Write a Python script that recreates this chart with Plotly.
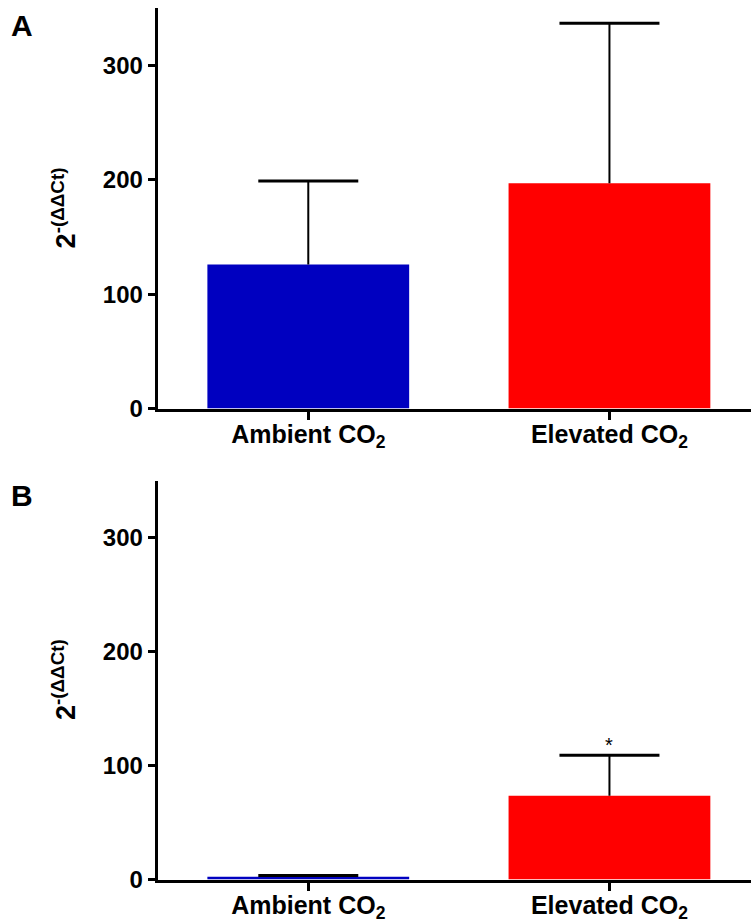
import plotly.graph_objects as go

categories = ["Ambient CO<sub>2</sub>", "Elevated CO<sub>2</sub>"]
bar_colors = ["#0000C0", "#FF0000"]
panel_a_means = [126, 197]
panel_a_errors = [73, 140]
panel_b_means = [2.5, 73.5]
panel_b_errors = [1.0, 35.5]
y_ticks = [0, 100, 200, 300]
panel_labels = ["A", "B"]
y_title = "2<sup>-(ΔΔCt)</sup>"

W, H = 751, 924
x_left = 157.7 / W
A_dom = [(H - 408.5) / H, (H - 8.3) / H]
B_dom = [(H - 879.5) / H, (H - 480.7) / H]

FONT = "Liberation Sans, Arial, sans-serif"
BAR_W = 0.67
CAP_HALF = 0.166

fig = go.Figure()
shapes = []
for means, errs, ya, xa in [(panel_a_means, panel_a_errors, "y", "x"),
                            (panel_b_means, panel_b_errors, "y2", "x2")]:
    fig.add_trace(go.Bar(
        x=categories, y=means, xaxis=xa, yaxis=ya,
        marker=dict(color=bar_colors, line=dict(width=0)),
        width=BAR_W, showlegend=False,
    ))
    for i, (m, e) in enumerate(zip(means, errs)):
        shapes.append(dict(type="line", xref=xa, yref=ya, x0=i, x1=i, y0=m, y1=m + e,
                           line=dict(color="black", width=2), layer="above"))
        shapes.append(dict(type="line", xref=xa, yref=ya, x0=i - CAP_HALF, x1=i + CAP_HALF,
                           y0=m + e, y1=m + e,
                           line=dict(color="black", width=3), layer="above"))

xaxis_common = dict(
    range=[-0.5, 1.47], showline=True, linewidth=3, linecolor="black",
    ticks="outside", ticklen=8, tickwidth=3, tickcolor="black",
    tickfont=dict(family=FONT, size=25, color="black", weight="bold"),
    ticklabelstandoff=-7,
    showgrid=False, zeroline=False, fixedrange=True, automargin=False,
)
yaxis_common = dict(
    range=[0, 350], tickvals=y_ticks, showline=True, linewidth=3, linecolor="black",
    ticks="outside", ticklen=7, tickwidth=3, tickcolor="black",
    tickfont=dict(family=FONT, size=24, color="black", weight="bold"),
    showgrid=False, zeroline=False, automargin=False,
)

fig.update_layout(
    width=W, height=H,
    margin=dict(l=0, r=0, t=0, b=0, autoexpand=False),
    plot_bgcolor="white", paper_bgcolor="white",
    xaxis=dict(domain=[x_left, 1], anchor="y", **xaxis_common),
    yaxis=dict(domain=A_dom, anchor="x", **yaxis_common),
    xaxis2=dict(domain=[x_left, 1], anchor="y2", **xaxis_common),
    yaxis2=dict(domain=B_dom, anchor="x2", **yaxis_common),
    shapes=shapes,
)

annotations = []
for lab, ypix in zip(panel_labels, [25, 495]):
    annotations.append(dict(
        text=lab, xref="paper", yref="paper", x=21.5 / W, y=(H - ypix) / H,
        xanchor="center", yanchor="middle", showarrow=False,
        font=dict(family=FONT, size=30, color="black", weight="bold")))
for dom in [A_dom, B_dom]:
    annotations.append(dict(
        text=y_title, xref="paper", yref="paper", x=64 / W, y=(dom[0] + dom[1]) / 2,
        xanchor="center", yanchor="middle", textangle=-90, showarrow=False,
        font=dict(family=FONT, size=27, color="black", weight="bold")))
annotations.append(dict(
    text="*", xref="x2", yref="y2", x=1,
    y=panel_b_means[1] + panel_b_errors[1], yanchor="bottom", yshift=-3,
    showarrow=False, font=dict(family=FONT, size=20, color="black")))
fig.update_layout(annotations=annotations)

fig.write_html("out.html")
